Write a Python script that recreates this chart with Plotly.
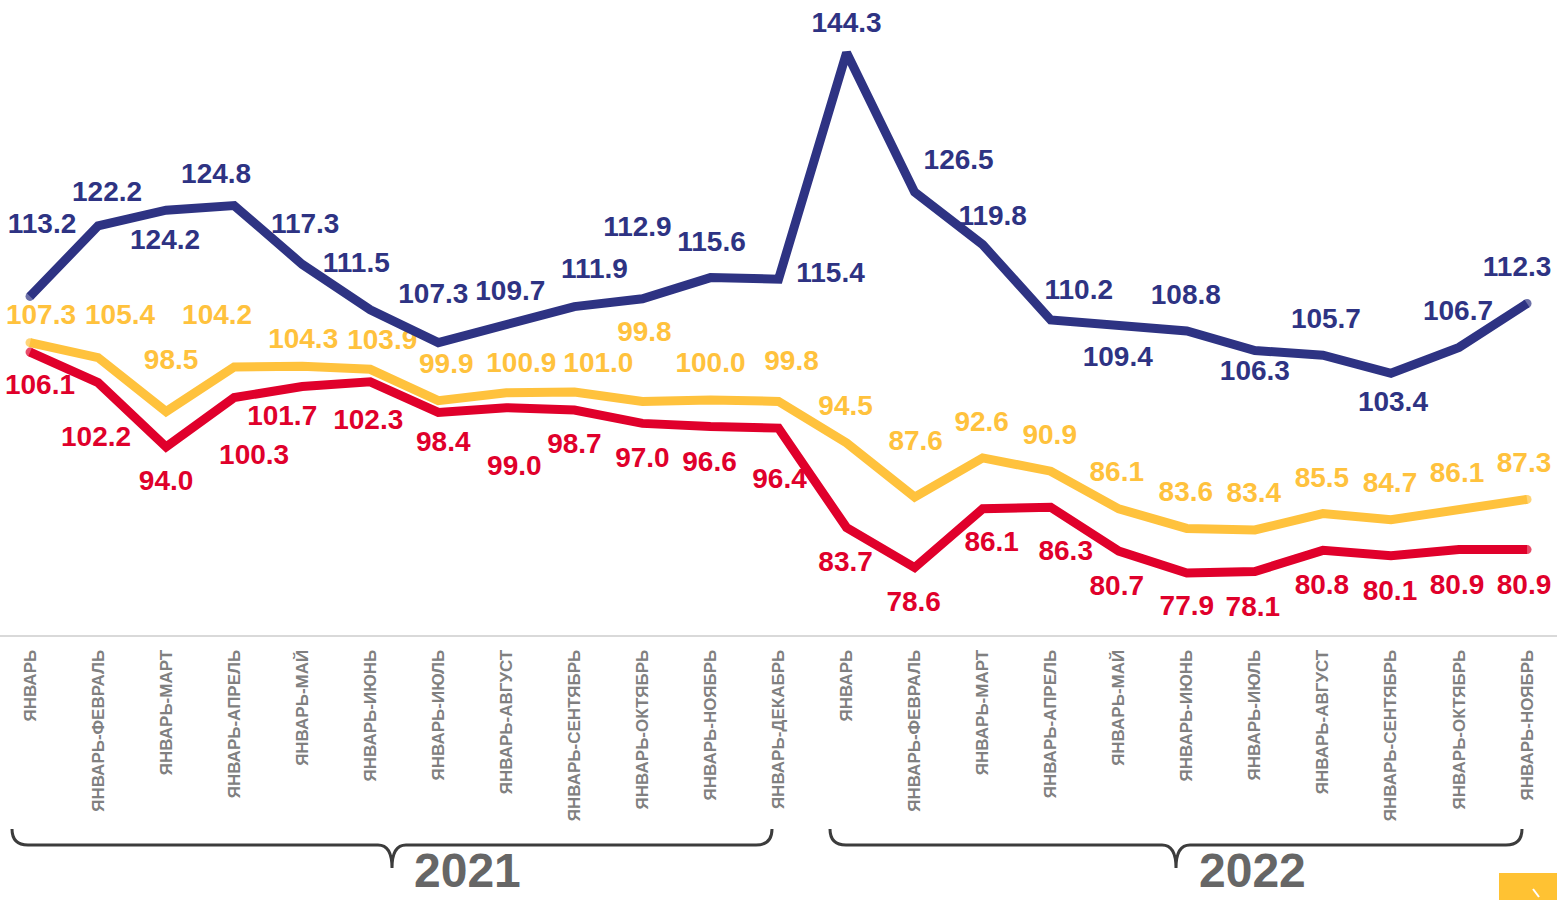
import plotly.graph_objects as go

months = ["ЯНВАРЬ", "ЯНВАРЬ-ФЕВРАЛЬ", "ЯНВАРЬ-МАРТ", "ЯНВАРЬ-АПРЕЛЬ", "ЯНВАРЬ-МАЙ",
          "ЯНВАРЬ-ИЮНЬ", "ЯНВАРЬ-ИЮЛЬ", "ЯНВАРЬ-АВГУСТ", "ЯНВАРЬ-СЕНТЯБРЬ",
          "ЯНВАРЬ-ОКТЯБРЬ", "ЯНВАРЬ-НОЯБРЬ", "ЯНВАРЬ-ДЕКАБРЬ"]
categories = months + months[:11]
years = ["2021", "2022"]

navy = [113.2, 122.2, 124.2, 124.8, 117.3, 111.5, 107.3, 109.7, 111.9, 112.9, 115.6, 115.4,
        144.3, 126.5, 119.8, 110.2, 109.4, 108.8, 106.3, 105.7, 103.4, 106.7, 112.3]
yellow = [107.3, 105.4, 98.5, 104.2, 104.3, 103.9, 99.9, 100.9, 101.0, 99.8, 100.0, 99.8,
          94.5, 87.6, 92.6, 90.9, 86.1, 83.6, 83.4, 85.5, 84.7, 86.1, 87.3]
red = [106.1, 102.2, 94.0, 100.3, 101.7, 102.3, 98.4, 99.0, 98.7, 97.0, 96.6, 96.4,
       83.7, 78.6, 86.1, 86.3, 80.7, 77.9, 78.1, 80.8, 80.1, 80.9, 80.9]

# label offsets in pixels (dx right, dy up)
navy_off = [(12, 70), (9, 32), (-1, -32), (-18, 30), (3, 38), (-14, 45), (-5, 47), (4, 31),
            (20, 36), (-5, 70), (1, 34), (52, 4), (0, 28), (44, 30), (10, 27), (28, 28),
            (-1, -33), (-1, 34), (0, -22), (3, 34), (2, -31), (-1, 34), (-10, 34)]
yellow_off = [(11, 26), (22, 41), (5, 50), (-17, 50), (1, 25), (12, 27), (8, 35), (15, 28),
              (24, 27), (2, 67), (0, 35), (13, 38), (-1, 35), (1, 54), (-1, 34), (-1, 34),
              (-2, 35), (-1, 34), (-1, 35), (-1, 34), (-1, 35), (-2, 34), (-3, 34)]
red_off = [(10, -35), (-2, -56), (0, -36), (20, -59), (-20, -31), (-2, -40), (5, -32), (8, -60),
           (0, -36), (0, -37), (-1, -37), (1, -53), (-1, -36), (-1, -36), (9, -35), (15, -46),
           (-2, -37), (0, -35), (-2, -37), (-1, -37), (-1, -37), (-2, -37), (-3, -37)]

W, H = 1557, 900
TOP, BOT = 8, 635
YMIN, YMAX = 70, 150
XMIN, XMAX = -0.441, 22.44
px_x = W / (XMAX - XMIN)
px_y = (BOT - TOP) / (YMAX - YMIN)

C_NAVY = "#2E3383"
C_YEL = "#FFC23D"
C_RED = "#E0002B"
LW = 9

x = list(range(len(categories)))
fig = go.Figure()

def labels(vals, offs, color):
    fig.add_trace(go.Scatter(
        x=[i + dx / px_x for i, (dx, dy) in zip(x, offs)],
        y=[v + dy / px_y for v, (dx, dy) in zip(vals, offs)],
        text=[f"{v:.1f}" for v in vals], mode="text", textposition="middle center",
        textfont=dict(family="Liberation Sans, Arial, sans-serif", size=28, color=color),
        texttemplate="<b>%{text}</b>", cliponaxis=False, hoverinfo="skip", showlegend=False))

labels(navy, navy_off, C_NAVY)
labels(yellow, yellow_off, C_YEL)
labels(red, red_off, C_RED)

n = len(x)
cap_sizes = [LW if i in (0, n - 1) else 0 for i in range(n)]
for vals, c in [(yellow, C_YEL), (red, C_RED), (navy, C_NAVY)]:
    fig.add_trace(go.Scatter(x=x, y=vals, mode="lines+markers",
                             line=dict(color=c, width=LW),
                             marker=dict(color=c, size=cap_sizes, line=dict(width=0)),
                             showlegend=False, hoverinfo="skip", cliponaxis=False))

def pxp(px, py):
    return px / W, (BOT - py) / (BOT - TOP)

def brace(x0, xc, x1, yh=845, ye=829, yc=868):
    def P(a, b):
        u, v = pxp(a, b)
        return f"{u:.5f},{v:.5f}"
    path = (f"M {P(x0, ye)} Q {P(x0, yh)} {P(x0 + 16, yh)} L {P(xc - 14, yh)} "
            f"Q {P(xc, yh)} {P(xc, yc)} Q {P(xc, yh)} {P(xc + 14, yh)} "
            f"L {P(x1 - 16, yh)} Q {P(x1, yh)} {P(x1, ye)}")
    fig.add_shape(type="path", path=path, xref="paper", yref="paper",
                  line=dict(color="#3C3C3C", width=3))

brace(12, 392, 772)
brace(830, 1176, 1522)

for yr, cx in zip(years, [467, 1252]):
    u, v = pxp(cx, 899)
    fig.add_annotation(x=u, y=v, xref="paper", yref="paper", text=f"<b>{yr}</b>",
                       showarrow=False, xanchor="center", yanchor="bottom",
                       font=dict(family="Liberation Sans, Arial, sans-serif",
                                 size=48, color="#666666"))

u0, v0 = pxp(1499, 873)
u1, v1 = pxp(1557, 905)
fig.add_shape(type="rect", x0=u0, y0=v0, x1=u1, y1=v1, xref="paper", yref="paper",
              fillcolor="#FFC233", line=dict(width=0))
a0, b0 = pxp(1533, 889)
a1, b1 = pxp(1539, 897)
fig.add_shape(type="line", x0=a0, y0=b0, x1=a1, y1=b1, xref="paper", yref="paper",
              line=dict(color="white", width=2))

fig.update_layout(
    width=W, height=H, margin=dict(l=0, r=0, t=TOP, b=H - BOT),
    plot_bgcolor="white", paper_bgcolor="white",
    xaxis=dict(range=[XMIN, XMAX], tickmode="array", tickvals=x, ticktext=categories,
               tickangle=-90, showgrid=False, zeroline=False, showline=True,
               linecolor="#D9D9D9", linewidth=2, ticks="", ticklabelstandoff=6,
               tickfont=dict(family="Liberation Sans, Arial, sans-serif", size=17,
                             color="#808080", weight="bold")),
    yaxis=dict(range=[YMIN, YMAX], visible=False, showgrid=False, zeroline=False),
)

fig.write_html("out.html", config={"displayModeBar": False},
               post_script="document.body.style.margin='0';document.body.style.overflow='hidden';")
